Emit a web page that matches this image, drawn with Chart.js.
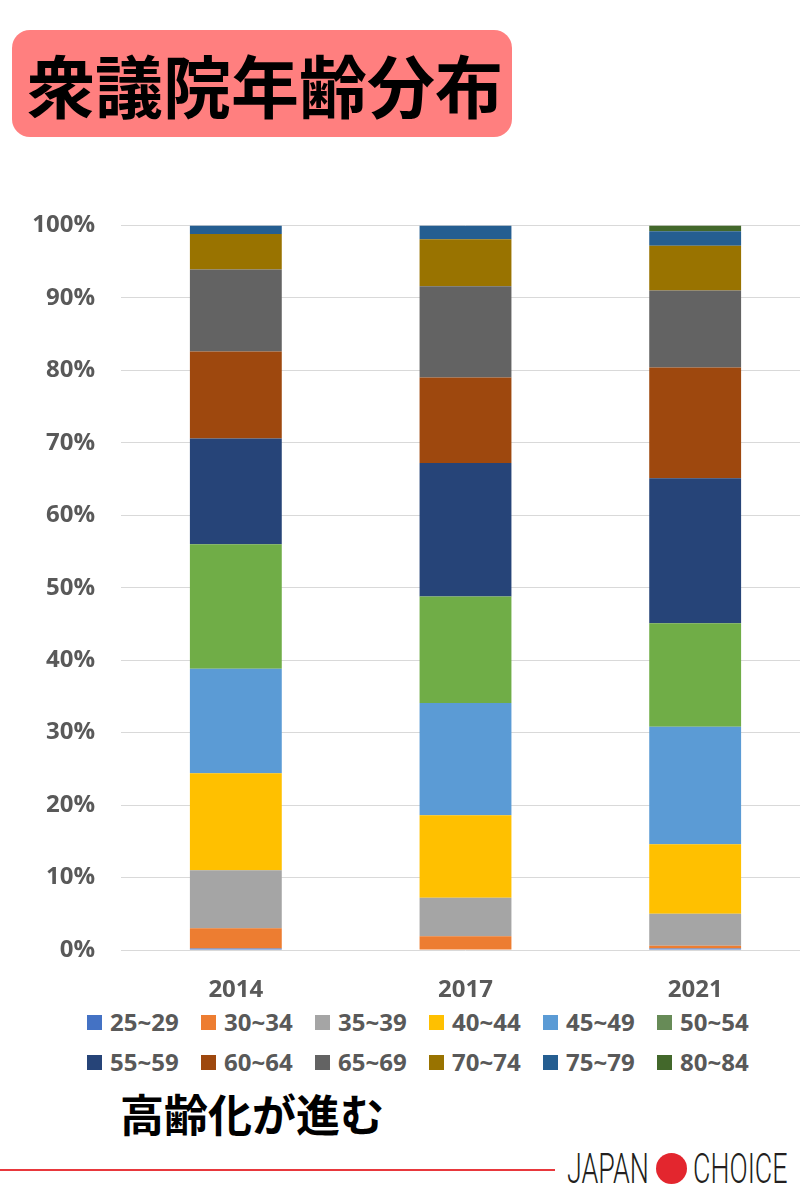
<!DOCTYPE html>
<html>
<head>
<meta charset="utf-8">
<script src="https://cdn.jsdelivr.net/npm/chart.js@4"></script>
<style>
  html, body { margin: 0; padding: 0; width: 800px; height: 1200px; overflow: hidden; background: #fff; }
  #title { position: absolute; left: 12px; top: 30px; width: 500px; height: 107px; background: #FF7F7F; border-radius: 18px;
           font-family: "Noto Sans CJK JP", sans-serif; font-weight: 700; font-size: 68px; line-height: 107px; padding-left: 15px; box-sizing: border-box; color: #000; }
  #wrap { position: absolute; left: 0; top: 185px; width: 810px; height: 815px; }
  #legend { position: absolute; left: 0; top: 1008px; width: 800px; font-family: "Open Sans", sans-serif; font-weight: 700; font-size: 24px; color: #595959; }
  .item { position: absolute; height: 28px; line-height: 28px; white-space: nowrap; }
  .item i { position: absolute; left: 0; top: 7px; width: 15px; height: 15px; }
  .item span { position: absolute; left: 23px; top: 0; }
  #sub { position: absolute; left: 120px; top: 1088px; font-family: "Noto Sans CJK JP", sans-serif; font-weight: 700; font-size: 44px; line-height: 50px; color: #000; }
  #rule { position: absolute; left: 0; top: 1169px; width: 555px; height: 2px; background: #E8383D; }
  .logo { position: absolute; top: 1144px; font-family: Roboto, sans-serif; font-weight: 300; font-size: 42px; line-height: 50px; color: #231f20; transform: scaleX(0.64); transform-origin: left center; }
  #dot { position: absolute; left: 656px; top: 1153px; width: 31px; height: 31px; border-radius: 50%; background: #E3262E; }
</style>
</head>
<body>
<div id="title">衆議院年齢分布</div>
<div id="wrap"><canvas id="myChart"></canvas></div>
<div id="legend"></div>
<div id="sub">高齢化が進む</div>
<div id="rule"></div>
<div class="logo" style="left:567px">JAPAN</div>
<div id="dot"></div>
<div class="logo" style="left:693px">CHOICE</div>
<script>
const years = ['2014', '2017', '2021'];
const ageGroups = ['25~29', '30~34', '35~39', '40~44', '45~49', '50~54', '55~59', '60~64', '65~69', '70~74', '75~79', '80~84'];

// share of members per age group (%), one list per year
const share2014 = [0.2, 2.8, 8.0, 13.4, 14.4, 17.2, 14.6, 12.0, 11.3, 4.9, 1.2, 0];
const share2017 = [0, 1.9, 5.3, 11.4, 15.5, 14.7, 18.4, 11.8, 12.6, 6.5, 1.9, 0];
const share2021 = [0.2, 0.4, 4.4, 9.6, 16.2, 14.3, 20.0, 15.3, 10.6, 6.2, 2.0, 0.8];

const yTicks = [0, 10, 20, 30, 40, 50, 60, 70, 80, 90, 100];

const barColors = ['#4472C4', '#ED7D31', '#A5A5A5', '#FFC000', '#5B9BD5', '#70AD47',
                   '#264478', '#9E480E', '#636363', '#997300', '#255E91', '#43682B'];
const legendColors = barColors.slice();
legendColors[5] = '#678B57';

const textGray = '#595959';
const font = {family: '"Open Sans", sans-serif', weight: 'bold', size: 24};

const datasets = ageGroups.map((label, i) => ({
    label: label,
    data: [share2014[i], share2017[i], share2021[i]],
    backgroundColor: barColors[i],
    borderWidth: 0,
    barPercentage: 0.4,
    categoryPercentage: 1.0
}));

const ctx = document.getElementById('myChart').getContext('2d');
const chart = new Chart(ctx, {
    type: 'bar',
    data: {labels: years, datasets: datasets},
    options: {
        responsive: true,
        maintainAspectRatio: false,
        animation: false,
        layout: {padding: {top: 10, right: 0, bottom: 0, left: 0}},
        plugins: {legend: {display: false}, tooltip: {enabled: false}},
        scales: {
            x: {
                stacked: true,
                grid: {display: false},
                border: {display: false},
                ticks: {color: textGray, font: font, padding: 18},
                afterFit: (scale) => { scale.height = 50; }
            },
            y: {
                stacked: true,
                min: 0,
                max: 100,
                afterFit: (scale) => { scale.width = 121; },
                afterBuildTicks: (scale) => { scale.ticks = yTicks.map(v => ({value: v})); },
                grid: {color: '#D9D9D9', lineWidth: 1, drawTicks: false},
                border: {display: false},
                ticks: {color: textGray, font: font, padding: 26, callback: (v) => v + '%'}
            }
        }
    }
});

// legend in two rows of six, built from the chart's datasets
const legendEl = document.getElementById('legend');
chart.data.datasets.forEach((ds, i) => {
    const item = document.createElement('div');
    item.className = 'item';
    item.style.left = (87 + (i % 6) * 114) + 'px';
    item.style.top = (Math.floor(i / 6) * 40) + 'px';
    item.innerHTML = `<i style="background:${legendColors[i]}"></i><span>${ds.label}</span>`;
    legendEl.appendChild(item);
});
</script>
</body>
</html>
